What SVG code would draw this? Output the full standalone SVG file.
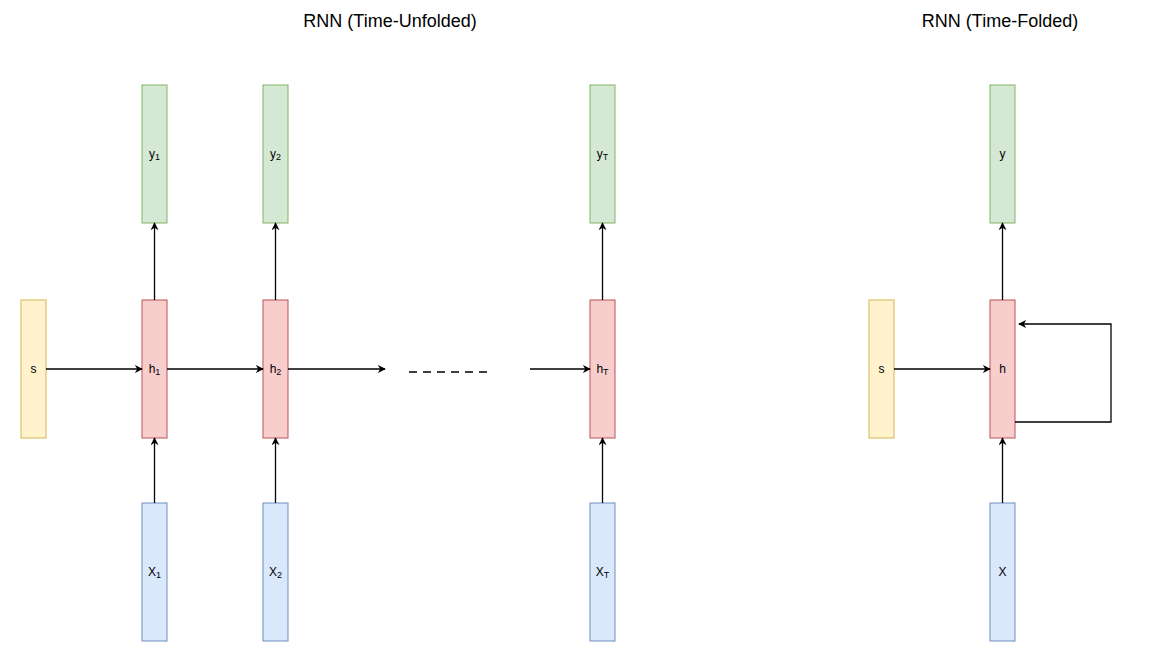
<svg xmlns="http://www.w3.org/2000/svg" width="1157" height="657" viewBox="0 0 1157 657">
<style>
text{font-family:Helvetica,"Liberation Sans",Arial,sans-serif;font-size:12px;fill:#000;text-anchor:middle;dominant-baseline:central}
.t{font-size:18px}
.y{fill:#d5e8d4;stroke:#82b366}
.h{fill:#f8cecc;stroke:#b85450}
.x{fill:#dae8fc;stroke:#6c8ebf}
.s{fill:#fff2cc;stroke:#d6b656}
.c{stroke:#000;stroke-width:1.3;fill:none}
</style>
<defs><marker id="a" viewBox="0 0 10 10" refX="9" refY="5" markerWidth="8" markerHeight="8" orient="auto" markerUnits="userSpaceOnUse"><path d="M0,0L10,5L0,10L3,5z" fill="#000"/></marker></defs>
<rect width="1157" height="657" fill="#fff"/>
<text class="t" x="390" y="21">RNN (Time-Unfolded)</text>
<text class="t" x="1000" y="21">RNN (Time-Folded)</text>
<g id="s1"><rect class="s" x="21" y="300" width="25" height="138"/><text x="33.5" y="369">s</text></g>
<g id="y1"><rect class="y" x="142" y="85" width="25" height="138"/><text x="154.5" y="154">y<tspan font-size="9" dy="3">1</tspan></text></g>
<g id="h1"><rect class="h" x="142" y="300" width="25" height="138"/><text x="154.5" y="369">h<tspan font-size="9" dy="3">1</tspan></text></g>
<g id="x1"><rect class="x" x="142" y="503" width="25" height="138"/><text x="154.5" y="572">X<tspan font-size="9" dy="3">1</tspan></text></g>
<g id="y2"><rect class="y" x="263" y="85" width="25" height="138"/><text x="275.5" y="154">y<tspan font-size="9" dy="3">2</tspan></text></g>
<g id="h2"><rect class="h" x="263" y="300" width="25" height="138"/><text x="275.5" y="369">h<tspan font-size="9" dy="3">2</tspan></text></g>
<g id="x2"><rect class="x" x="263" y="503" width="25" height="138"/><text x="275.5" y="572">X<tspan font-size="9" dy="3">2</tspan></text></g>
<g id="yT"><rect class="y" x="590" y="85" width="25" height="138"/><text x="602.5" y="154">y<tspan font-size="9" dy="3">T</tspan></text></g>
<g id="hT"><rect class="h" x="590" y="300" width="25" height="138"/><text x="602.5" y="369">h<tspan font-size="9" dy="3">T</tspan></text></g>
<g id="xT"><rect class="x" x="590" y="503" width="25" height="138"/><text x="602.5" y="572">X<tspan font-size="9" dy="3">T</tspan></text></g>
<g id="s2"><rect class="s" x="869" y="300" width="25" height="138"/><text x="881.5" y="369">s</text></g>
<g id="y"><rect class="y" x="990" y="85" width="25" height="138"/><text x="1002.5" y="154">y</text></g>
<g id="h"><rect class="h" x="990" y="300" width="25" height="138"/><text x="1002.5" y="369">h</text></g>
<g id="x"><rect class="x" x="990" y="503" width="25" height="138"/><text x="1002.5" y="572">X</text></g>
<g id="connectors">
<path class="c" marker-end="url(#a)" d="M46,369H142"/>
<path class="c" marker-end="url(#a)" d="M167,369H263"/>
<path class="c" marker-end="url(#a)" d="M288,369H385"/>
<path class="c" stroke-dasharray="8,6" stroke-width="2" d="M409,372H490"/>
<path class="c" marker-end="url(#a)" d="M530,369H590"/>
<path class="c" marker-end="url(#a)" d="M154.5,300V223"/>
<path class="c" marker-end="url(#a)" d="M275.5,300V223"/>
<path class="c" marker-end="url(#a)" d="M602.5,300V223"/>
<path class="c" marker-end="url(#a)" d="M1002.5,300V223"/>
<path class="c" marker-end="url(#a)" d="M154.5,503V438"/>
<path class="c" marker-end="url(#a)" d="M275.5,503V438"/>
<path class="c" marker-end="url(#a)" d="M602.5,503V438"/>
<path class="c" marker-end="url(#a)" d="M1002.5,503V438"/>
<path class="c" marker-end="url(#a)" d="M894,369H990"/>
<path class="c" marker-end="url(#a)" d="M1015,422H1111V324H1019"/>
</g>
</svg>
